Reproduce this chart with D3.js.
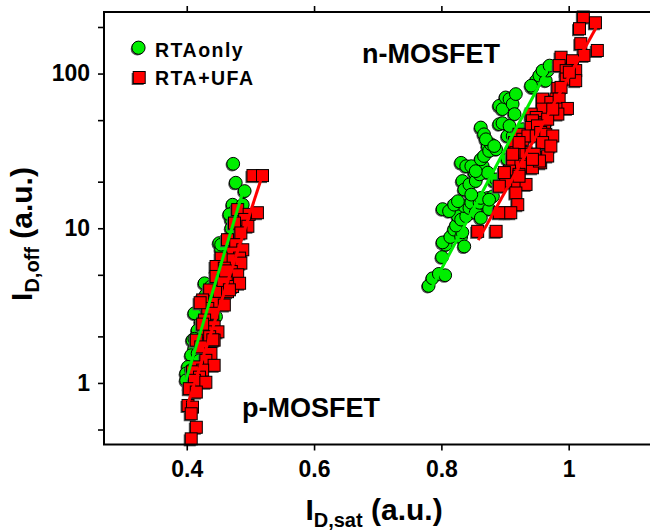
<!DOCTYPE html>
<html>
<head>
<meta charset="utf-8">
<script src="https://cdn.jsdelivr.net/npm/d3@7"></script>
<style>
  html, body { margin: 0; padding: 0; background: #fff; }
  svg { display: block; font-family: "Liberation Sans", Arial, sans-serif; }
</style>
</head>
<body>
<div id="chart"></div>
<script>
// ---------- data ----------
const xTicks = [0.4, 0.6, 0.8, 1.0];
const xTickLabels = ["0.4", "0.6", "0.8", "1"];
const yMajorTicks = [1, 10, 100];
const yMajorLabels = ["1", "10", "100"];
const yMinorTicks = [0.5, 2, 5, 20, 50, 200];
const seriesNames = ["RTAonly", "RTA+UFA"];

// RTA only, p-MOSFET  [Id,sat, Id,off]
const rtaP = [
  [0.473,26.1],[0.477,19.7],[0.491,17.4],[0.472,14.2],[0.488,14.2],[0.475,12.9],[0.483,11.4],
  [0.470,11.4],[0.470,10.0],[0.451,8.02],[0.454,7.26],[0.462,8.43],[0.428,4.41],[0.438,4.20],
  [0.430,3.71],[0.443,3.61],[0.449,3.44],[0.415,2.82],[0.422,2.49],[0.417,2.19],[0.425,2.04],
  [0.441,2.55],[0.446,2.68],[0.409,1.89],[0.412,1.67],[0.407,1.51],[0.417,1.55],[0.425,1.71],
  [0.433,1.84],[0.402,1.27],[0.399,1.15],[0.407,1.21],[0.399,1.04],[0.404,0.918],[0.420,1.40],
  [0.433,1.40],[0.467,12.3],[0.454,7.83],[0.438,2.96],[0.412,2.82],[0.412,1.93]
];
// RTA+UFA, p-MOSFET
const ufaP = [
  [0.504,21.9],[0.519,21.9],[0.480,13.2],[0.498,12.3],[0.511,12.6],[0.491,11.4],[0.475,10.8],
  [0.496,10.3],[0.485,9.32],[0.464,8.43],[0.477,7.83],[0.488,7.26],[0.472,6.91],[0.483,6.41],
  [0.467,6.25],[0.454,6.41],[0.485,5.95],[0.446,5.66],[0.459,5.52],[0.470,5.25],[0.446,4.88],
  [0.480,5.00],[0.462,4.64],[0.472,4.20],[0.483,4.41],[0.436,3.99],[0.451,3.89],[0.464,3.89],
  [0.425,3.44],[0.446,3.27],[0.459,3.19],[0.433,3.03],[0.441,2.82],[0.428,2.55],[0.443,2.31],
  [0.449,2.14],[0.430,2.14],[0.415,1.89],[0.436,1.99],[0.443,1.89],[0.422,1.71],[0.438,1.55],
  [0.430,1.40],[0.417,1.27],[0.443,1.30],[0.425,1.21],[0.409,1.18],[0.420,1.09],[0.412,1.04],
  [0.430,1.01],[0.404,0.918],[0.415,0.873],[0.402,0.715],[0.409,0.698],[0.407,0.632],
  [0.415,0.517],[0.407,0.435],[0.457,4.6],[0.421,3.3],[0.425,2.4],[0.441,1.9],[0.461,5.3],[0.467,4.0]
];
// RTA only, n-MOSFET
const rtaN = [
  [0.780,4.24],[0.786,4.75],[0.796,5.07],[0.806,4.97],[0.801,6.51],[0.807,7.83],[0.802,8.10],
  [0.814,8.78],[0.820,9.79],[0.831,8.78],[0.833,9.41],[0.836,7.63],[0.823,10.4],[0.826,11.95],
  [0.831,11.37],[0.839,11.95],[0.836,13.9],[0.844,13.5],[0.847,14.6],[0.854,12.6],[0.862,11.66],
  [0.860,14.6],[0.873,15.7],[0.875,13.3],[0.862,15.7],[0.802,13.3],[0.812,12.9],[0.820,14.2],
  [0.826,14.96],[0.833,20.2],[0.836,17.8],[0.844,19.2],[0.847,16.5],[0.852,22.9],[0.854,20.2],
  [0.860,22.3],[0.865,25.2],[0.873,22.9],[0.883,20.2],[0.881,16.1],[0.875,15.3],[0.831,26.5],
  [0.839,25.2],[0.847,25.2],[0.854,23.4],[0.862,27.9],[0.867,29.3],[0.873,34.0],[0.875,31.6],
  [0.878,34.9],[0.886,32.4],[0.862,44.8],[0.867,40.5],[0.870,37.6],[0.883,34.0],[0.891,47.1],
  [0.896,47.8],[0.904,39.5],[0.912,39.5],[0.907,45.9],[0.891,61.9],[0.896,58.9],[0.901,70.1],
  [0.907,68.4],[0.912,63.5],[0.917,73.7],[0.915,54.7],[0.928,43.7],[0.943,81.4],[0.949,90.0],
  [0.941,83.5],[0.954,97.0],[0.964,90.0],[0.967,104.5],[0.959,104.5],[0.970,112.6],[0.904,27.9],
  [0.886,20.7]
];
// RTA+UFA, n-MOSFET
const ufaN = [
  [1.023,232],[1.042,213],[1.017,195],[1.019,156],[1.045,141],[1.024,131],[0.988,127.5],
  [0.985,112.6],[1.006,121],[1.011,104.5],[0.996,104.5],[0.996,92.2],[1.011,90.0],[0.983,80.2],
  [0.988,81.4],[0.980,68.4],[0.959,68.4],[0.972,65.1],[0.985,68.4],[0.998,59.5],[0.980,58.9],
  [0.983,54.7],[0.964,54.7],[0.959,58.9],[0.941,54.7],[0.949,52.0],[0.954,48.3],[0.962,47.1],
  [0.967,50.7],[0.943,49.5],[0.941,44.8],[0.951,45.9],[0.922,40.5],[0.928,37.6],[0.936,39.5],
  [0.949,39.5],[0.956,41.6],[0.964,40.5],[0.975,39.5],[0.959,35.8],[0.915,35.8],[0.917,30.8],
  [0.933,30.8],[0.941,30.1],[0.949,28.6],[0.956,26.5],[0.967,29.3],[0.972,34.0],[0.912,27.2],
  [0.925,25.9],[0.933,25.2],[0.943,24.6],[0.946,30.1],[0.954,27.2],[0.907,23.4],[0.922,22.3],
  [0.915,19.7],[0.901,20.2],[0.891,18.7],[0.933,19.2],[0.917,16.9],[0.920,14.2],[0.901,12.6],
  [0.891,12.6],[0.909,12.6],[0.857,9.55],[0.886,9.55],[0.922,21.7],[0.943,27.9],[0.922,35.8],
  [0.899,22.9],[1.001,102],[0.975,58.9],[0.912,30.1]
];
// linear fits on log scale (start, end)
const fitRtaP = [[0.399,1.05],[0.487,16.6]];
const fitUfaP = [[0.402,0.737],[0.516,20.3]];
const fitRtaN = [[0.783,4.02],[0.972,116.7]];
const fitUfaN = [[0.858,8.38],[1.043,198]];

// ---------- layout ----------
const W = 650, H = 531;
const green = "#00ee00", red = "#ff0000";
const svg = d3.select("#chart").append("svg").attr("width", W).attr("height", H);

const x = d3.scaleLinear().domain([0.27, 1.2]).range([104, 696]);
const y = d3.scaleLog().domain([0.4, 250]).range([444.5, 12]);

const plot = svg.append("g");

// axes
const tickLen = 6;
const xBottom = d3.axisBottom(x).tickValues(xTicks).tickSize(tickLen)
  .tickFormat((d, i) => xTickLabels[i]).tickPadding(10);
const xTop = d3.axisTop(x).tickValues(xTicks).tickSize(tickLen).tickFormat("");
const yLeft = d3.axisLeft(y).tickValues(yMajorTicks).tickSize(tickLen)
  .tickFormat((d, i) => yMajorLabels[i]).tickPadding(8);
const yLeftMinor = d3.axisLeft(y).tickValues(yMinorTicks).tickSize(tickLen).tickFormat("");

function styleAxis(g) {
  g.select(".domain").remove();
  g.selectAll(".tick line").attr("stroke", "#000").attr("stroke-width", 1.6);
  g.selectAll(".tick text").attr("fill", "#000").attr("font-size", 23)
    .attr("font-weight", "bold").attr("font-family", "'Liberation Sans', Arial, sans-serif");
}
svg.append("g").attr("transform", `translate(0,444.5)`).call(xBottom).call(styleAxis);
svg.append("g").attr("transform", `translate(0,12)`).call(xTop).call(styleAxis);
svg.append("g").attr("transform", `translate(104,0)`).call(yLeft).call(styleAxis);
svg.append("g").attr("transform", `translate(104,0)`).call(yLeftMinor).call(styleAxis);

// markers
function drawCircles(data, color) {
  const g = plot.append("g");
  g.selectAll("circle.sh").data(data).join("circle")
    .attr("cx", d => x(d[0]) - 1.2).attr("cy", d => y(d[1]) + 1.2).attr("r", 6.4)
    .attr("fill", "#555");
  g.selectAll("circle.pt").data(data).join("circle")
    .attr("cx", d => x(d[0])).attr("cy", d => y(d[1])).attr("r", 6.4)
    .attr("fill", color).attr("stroke", "#000").attr("stroke-width", 1);
}
function drawSquares(data, color) {
  const s = 12;
  const g = plot.append("g");
  g.selectAll("rect.sh").data(data).join("rect")
    .attr("x", d => x(d[0]) - s / 2 - 1.5).attr("y", d => y(d[1]) - s / 2 + 1.5)
    .attr("width", s).attr("height", s).attr("fill", "#555");
  g.selectAll("rect.pt").data(data).join("rect")
    .attr("x", d => x(d[0]) - s / 2).attr("y", d => y(d[1]) - s / 2)
    .attr("width", s).attr("height", s)
    .attr("fill", color).attr("stroke", "#000").attr("stroke-width", 1);
}
drawCircles(rtaN, green);
drawCircles(rtaP, green);
drawSquares(ufaN, red);
drawSquares(ufaP, red);

// fit lines
const line = d3.line().x(d => x(d[0])).y(d => y(d[1]));
[[fitRtaP, green], [fitRtaN, green], [fitUfaP, red], [fitUfaN, red]].forEach(([d, c]) => {
  plot.append("path").attr("d", line(d)).attr("fill", "none")
    .attr("stroke", c).attr("stroke-width", 3);
});

// frame
svg.append("rect").attr("x", 104).attr("y", 12).attr("width", 592).attr("height", 432.5)
  .attr("fill", "none").attr("stroke", "#000").attr("stroke-width", 2);

// axis titles
const xt = svg.append("text").attr("x", 374).attr("y", 520).attr("text-anchor", "middle")
  .attr("font-size", 30).attr("font-weight", "bold").attr("fill", "#000");
xt.append("tspan").text("I");
xt.append("tspan").attr("font-size", 20).attr("dy", 7).text("D,sat");
xt.append("tspan").attr("dy", -7).text(" (a.u.)");

const yt = svg.append("text").attr("transform", "translate(32,234) rotate(-90)")
  .attr("text-anchor", "middle").attr("font-size", 30).attr("font-weight", "bold").attr("fill", "#000");
yt.append("tspan").text("I");
yt.append("tspan").attr("font-size", 20).attr("dy", 7).text("D,off");
yt.append("tspan").attr("dy", -7).text(" (a.u.)");

// annotations
svg.append("text").attr("x", 362).attr("y", 63).attr("font-size", 27).attr("font-weight", "bold")
  .attr("fill", "#000").text("n-MOSFET");
svg.append("text").attr("x", 242).attr("y", 417).attr("font-size", 27).attr("font-weight", "bold")
  .attr("fill", "#000").text("p-MOSFET");

// legend
const lg = svg.append("g");
lg.append("circle").attr("cx", 137.3).attr("cy", 48.9).attr("r", 6.6).attr("fill", "#555");
lg.append("circle").attr("cx", 138.5).attr("cy", 47.7).attr("r", 6.6)
  .attr("fill", green).attr("stroke", "#000").attr("stroke-width", 1);
lg.append("rect").attr("x", 131.7).attr("y", 73).attr("width", 12).attr("height", 12).attr("fill", "#555");
lg.append("rect").attr("x", 133.2).attr("y", 71.5).attr("width", 12).attr("height", 12)
  .attr("fill", red).attr("stroke", "#000").attr("stroke-width", 1);
lg.append("text").attr("x", 155).attr("y", 57).attr("font-size", 19.5).attr("font-weight", "bold")
  .attr("letter-spacing", 1.5).attr("fill", "#000").text(seriesNames[0]);
lg.append("text").attr("x", 155).attr("y", 85).attr("font-size", 19.5).attr("font-weight", "bold")
  .attr("letter-spacing", 1.5).attr("fill", "#000").text(seriesNames[1]);
</script>
</body>
</html>
